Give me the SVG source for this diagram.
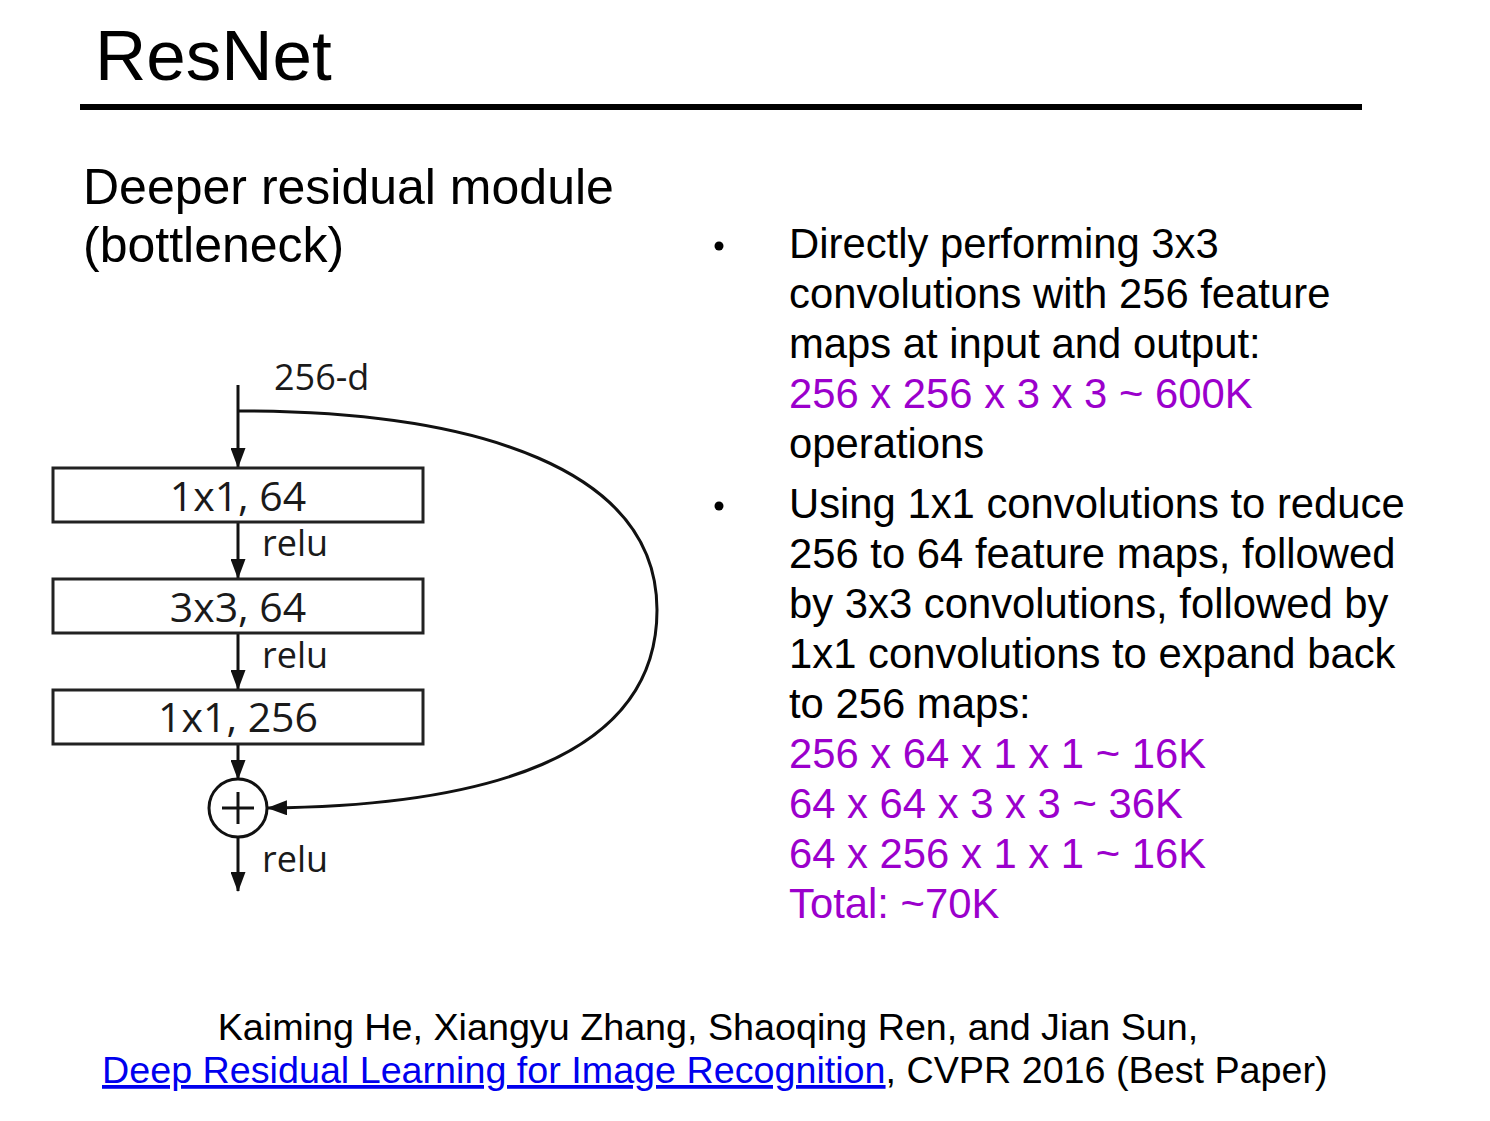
<svg xmlns="http://www.w3.org/2000/svg" width="1490" height="1121" viewBox="0 0 1490 1121">
<defs>
<marker id="ah2" viewBox="0 0 20 15" refX="19" refY="7.5" markerWidth="20" markerHeight="15" markerUnits="userSpaceOnUse" orient="auto">
<path d="M0,0 L20,7.5 L0,15 z" fill="#111"/>
</marker>
<style>
.h{font-family:"Liberation Sans",Arial,sans-serif;fill:#000}
.t{font-family:"Liberation Sans",Arial,sans-serif;font-size:41.8px;fill:#000}
.p{fill:#9B00CC}
.d{font-family:"Open Sans","Noto Sans",sans-serif;font-size:36px;fill:#1a1a1a}
.b{font-size:41px}
.box{fill:#fff;stroke:#222;stroke-width:3}
.c{fill:none;stroke:#111;stroke-width:3;marker-end:url(#ah2)}
</style>
</defs>
<rect width="1490" height="1121" fill="#fff"/>
<text class="h" x="95" y="80" font-size="71">ResNet</text>
<rect x="80" y="104" width="1282" height="6" fill="#000"/>
<text class="h" x="83" y="204" font-size="50">Deeper residual module</text>
<text class="h" x="83" y="262" font-size="50">(bottleneck)</text>

<g id="connectors">
<line class="c" x1="238" y1="385" x2="238" y2="467"/>
<line class="c" x1="238" y1="522" x2="238" y2="578"/>
<line class="c" x1="238" y1="633" x2="238" y2="689"/>
<line class="c" x1="238" y1="744" x2="238" y2="779"/>
<line class="c" x1="238" y1="837" x2="238" y2="891"/>
<path class="c" d="M238 411 C 480 411, 657 470, 657 610 C 657 760, 480 806, 268 808"/>
</g>
<g id="label-256d"><text class="d" x="274" y="390">256-d</text></g>
<g id="box1"><rect class="box" x="53" y="468" width="370" height="54"/><text class="d b" x="238" y="511" text-anchor="middle">1x1, 64</text></g>
<g id="relu1"><text class="d" x="262" y="556">relu</text></g>
<g id="box2"><rect class="box" x="53" y="579" width="370" height="54"/><text class="d b" x="238" y="622" text-anchor="middle">3x3, 64</text></g>
<g id="relu2"><text class="d" x="262" y="668">relu</text></g>
<g id="box3"><rect class="box" x="53" y="690" width="370" height="54"/><text class="d b" x="238" y="732" text-anchor="middle">1x1, 256</text></g>
<g id="sum"><circle cx="238" cy="808" r="29" fill="#fff" stroke="#111" stroke-width="3"/><line x1="222" y1="808" x2="254" y2="808" stroke="#111" stroke-width="3"/><line x1="238" y1="792" x2="238" y2="824" stroke="#111" stroke-width="3"/></g>
<g id="relu3"><text class="d" x="262" y="872">relu</text></g>

<g id="bullets">
<circle cx="719" cy="246" r="4.5" fill="#000"/>
<circle cx="719" cy="506" r="4.5" fill="#000"/>
<text class="t" x="789" y="258">Directly performing 3x3</text>
<text class="t" x="789" y="308">convolutions with 256 feature</text>
<text class="t" x="789" y="358">maps at input and output:</text>
<text class="t p" x="789" y="408">256 x 256 x 3 x 3 ~ 600K</text>
<text class="t" x="789" y="458">operations</text>
<text class="t" x="789" y="518">Using 1x1 convolutions to reduce</text>
<text class="t" x="789" y="568">256 to 64 feature maps, followed</text>
<text class="t" x="789" y="618">by 3x3 convolutions, followed by</text>
<text class="t" x="789" y="668">1x1 convolutions to expand back</text>
<text class="t" x="789" y="718">to 256 maps:</text>
<text class="t p" x="789" y="768">256 x 64 x 1 x 1 ~ 16K</text>
<text class="t p" x="789" y="818">64 x 64 x 3 x 3 ~ 36K</text>
<text class="t p" x="789" y="868">64 x 256 x 1 x 1 ~ 16K</text>
<text class="t p" x="789" y="918">Total: ~70K</text>
</g>

<g id="citation">
<text class="h" x="708" y="1040" font-size="37.7" text-anchor="middle">Kaiming He, Xiangyu Zhang, Shaoqing Ren, and Jian Sun,</text>
<text class="h" x="102" y="1083" font-size="37.7"><tspan fill="#0000EE" text-decoration="underline">Deep Residual Learning for Image Recognition</tspan>, CVPR 2016 (Best Paper)</text>
</g>
</svg>
